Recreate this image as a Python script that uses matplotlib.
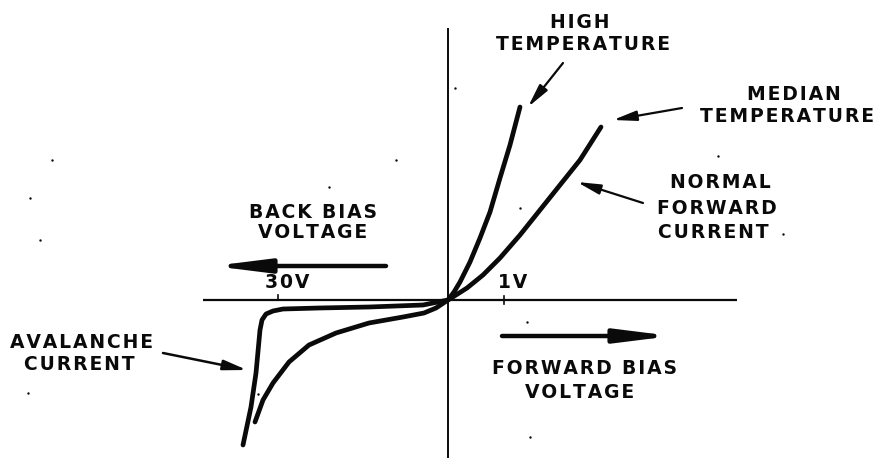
import matplotlib.pyplot as plt

# diode characteristic sketch, arbitrary units, origin where the axes cross
x_min, x_max = -448, 431
y_min, y_max = -158, 300

# forward curves
high_v = [0, 6, 12, 22, 32, 42, 52, 62, 72]
high_i = [0, 8, 18, 38, 62, 88, 122, 155, 193]
median_v = [0, 8, 19, 35, 52, 72, 92, 112, 132, 153]
median_i = [0, 5, 12, 25, 42, 65, 90, 115, 140, 173]

# reverse curves
aval_v = [0, -25, -79, -129, -165, -175, -182, -186, -188, -192, -197, -205]
aval_i = [0, -5, -7, -8, -9, -11, -14, -20, -30, -73, -107, -145]
leak_v = [0, -6, -12, -24, -45, -79, -112, -139, -159, -175, -185, -193]
leak_i = [0, -4, -8, -13, -17, -23, -33, -45, -62, -83, -100, -122]

# axis extent and scale marks
h_axis = [-245, 289]
v_axis = [-158, 272]
tick_30v = -170
tick_1v = 56

# scan specks
speck_v = [7, -396, -418, -408, -52, -119, 72, 79, 82, -190, -420, 335, 270]
speck_i = [212, 140, 102, 60, 140, 113, 92, -22, -137, -94, -93, 66, 144]

plt.rcParams['font.family'] = ['DejaVu Sans']
fig = plt.figure(figsize=(8.79, 4.58), dpi=100)
ax = fig.add_axes([0, 0, 1, 1])
ax.set_xlim(x_min, x_max)
ax.set_ylim(y_min, y_max)
ax.axis('off')

ink = '#0a0a0a'

ax.plot(h_axis, [0, 0], color=ink, lw=1.6, solid_capstyle='butt')
ax.plot([0, 0], v_axis, color=ink, lw=1.4, solid_capstyle='butt')
ax.plot([tick_30v, tick_30v], [0, 5], color=ink, lw=1.2)
ax.plot([tick_1v, tick_1v], [-4, 4], color=ink, lw=1.2)

for v, i in [(high_v, high_i), (median_v, median_i), (aval_v, aval_i), (leak_v, leak_i)]:
    ax.plot(v, i, color=ink, lw=3.4, solid_capstyle='round', solid_joinstyle='round')

ax.scatter(speck_v, speck_i, s=3, color=ink, lw=0)

txt = dict(fontsize=13.5, fontweight='bold', color=ink, ha='center', va='center')


def label(x, y, s):
    # lettering is spread out a little, so pad each letter with a hair space
    ax.text(x, y, '\u200a'.join(s), **txt)


def arrow(tail, tip, lw, scale, hl, hw):
    ax.annotate('', xy=tip, xytext=tail,
                arrowprops=dict(arrowstyle=f'-|>,head_length={hl},head_width={hw}',
                                lw=lw, color=ink, mutation_scale=scale,
                                shrinkA=0, shrinkB=0))


# bias direction arrows
arrow((-62, 34), (-235, 34), 3.2, 20, 1.6, 0.2)
arrow((54, -36), (224, -36), 3.2, 20, 1.6, 0.2)

# pointers to the curves
arrow((115, 237), (80, 193), 1.6, 10, 1.4, 0.3)
arrow((234, 192), (165, 180), 1.6, 10, 1.4, 0.3)
arrow((195, 97), (129, 118), 1.6, 10, 1.4, 0.3)
arrow((-285, -53), (-201, -70), 1.8, 10, 1.4, 0.3)

label(132, 278, 'HIGH')
label(135, 255, 'TEMPERATURE')
label(346, 205, 'MEDIAN')
label(339, 183, 'TEMPERATURE')
label(272, 117, 'NORMAL')
label(269, 92, 'FORWARD')
label(265, 68, 'CURRENT')
label(-135, 88, 'BACK BIAS')
label(-135, 68, 'VOLTAGE')
label(-161, 17, '30V')
label(65, 18, '1V')
label(137, -68, 'FORWARD BIAS')
label(132, -92, 'VOLTAGE')
label(-366, -42, 'AVALANCHE')
label(-369, -65, 'CURRENT')

fig.savefig('out.png', dpi=100, facecolor='white')
